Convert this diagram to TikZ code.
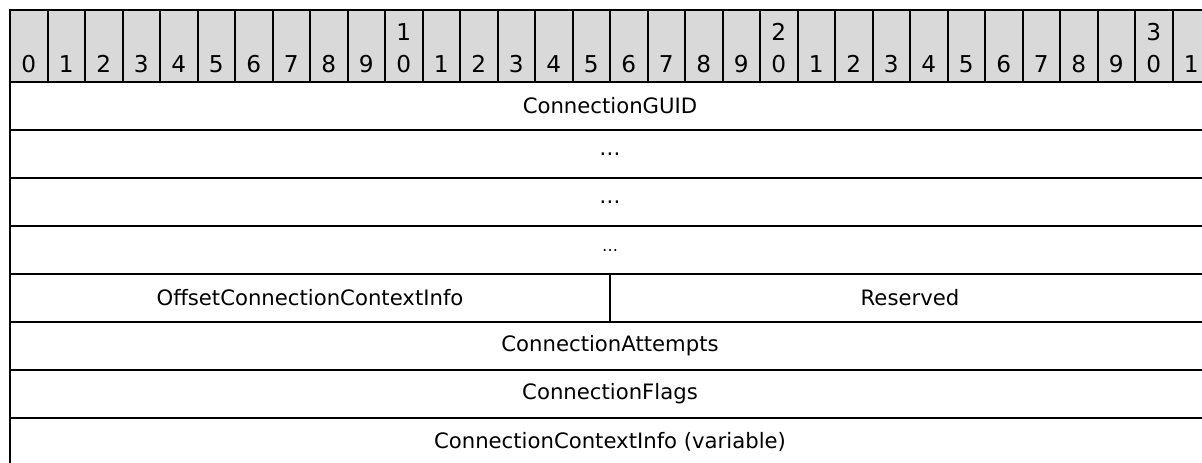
\documentclass[tikz,border=0pt]{standalone}
\usepackage{fontspec}
\setmainfont{DejaVu Sans}
\usepackage{tikz}
\definecolor{hdrgray}{HTML}{D9D9D9}
\tikzset{
  bitcell/.style={draw, line width=1pt, fill=hdrgray, minimum width=18.75pt, minimum height=36pt, inner sep=0pt},
  bitnum/.style={anchor=base, inner sep=0pt, font=\fontsize{11.6}{13}\selectfont},
  field/.style={draw, line width=1pt, minimum height=24pt, inner sep=0pt, font=\fontsize{10.6}{12}\selectfont},
}

\begin{document}
\begin{tikzpicture}[x=0.5pt,y=-0.5pt]
\useasboundingbox (0,0) rectangle (1202,462);
\clip (0,0) rectangle (1202,462);

% header with bit numbers
\foreach \i in {0,...,31}{
\pgfmathsetmacro{\X}{10+37.5*\i+18.75}
\pgfmathtruncatemacro{\ones}{mod(\i,10)}
\pgfmathtruncatemacro{\tens}{\i/10}
\node[bitcell] (bit\i) at (\X,46) {};
\node[bitnum] (lo\i) at (\X,72) {\ones};
\ifnum\ones=0 \ifnum\i>0
\node[bitnum] (hi\i) at (\X,40) {\tens};
\fi\fi
}

% fields
\node[field, minimum width=600pt] (guid) at (610,106) {ConnectionGUID};
\node[field, minimum width=600pt] (guidb) at (610,154) {…};
\node[field, minimum width=600pt] (guidc) at (610,202) {…};
\node[field, minimum width=600pt] (guidd) at (610,250) {{\footnotesize …}};
\node[field, minimum width=300pt] (offset) at (310,298) {OffsetConnectionContextInfo};
\node[field, minimum width=300pt] (reserved) at (910,298) {Reserved};
\node[field, minimum width=600pt] (attempts) at (610,346) {ConnectionAttempts};
\node[field, minimum width=600pt] (flags) at (610,394) {ConnectionFlags};
\node[field, minimum width=600pt] (ctxinfo) at (610,442) {ConnectionContextInfo (variable)};

\end{tikzpicture}
\end{document}
